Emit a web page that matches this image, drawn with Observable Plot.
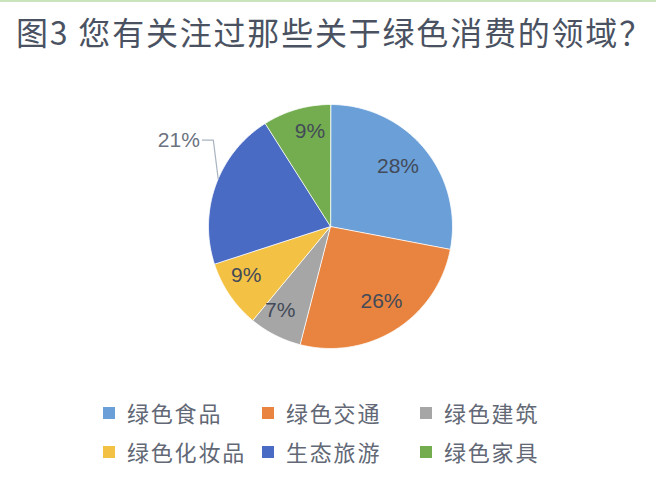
<!DOCTYPE html>
<html>
<head>
<meta charset="utf-8">
<script src="https://cdn.jsdelivr.net/npm/d3@7"></script>
<script src="https://cdn.jsdelivr.net/npm/@observablehq/plot@0.6"></script>
<style>
  html, body { margin: 0; padding: 0; background: #fff; }
  #page { position: relative; width: 656px; height: 478px; overflow: hidden; border-top: 2px solid #c9e3bd; box-sizing: border-box; }
  #title { position: absolute; left: 16px; top: 6px; font-family: "Noto Sans CJK SC", sans-serif; font-size: 32px; color: #4a5262; white-space: nowrap; letter-spacing: 1.8px; }
  #chart { position: absolute; left: 0; top: 58px; }
  .leg { position: absolute; font-family: "Noto Sans CJK SC", sans-serif; font-size: 22px; color: #626875; white-space: nowrap; letter-spacing: 1.8px; line-height: 1; }
  .leg span.sw { display: inline-block; width: 12px; height: 12px; margin-right: 12px; vertical-align: 3px; }
</style>
</head>
<body>
<div id="page">
  <div id="title">图3 您有关注过那些关于绿色消费的领域？</div>
  <div id="chart"></div>
  <div id="legend"></div>
</div>
<script>
const categories = ["绿色食品", "绿色交通", "绿色建筑", "绿色化妆品", "生态旅游", "绿色家具"];
const values = [28, 26, 7, 9, 21, 9];
const colors = ["#6a9fd8", "#e8843f", "#a6a6a6", "#f3c244", "#4a6bc4", "#73ad4f"];

const data = categories.map((name, i) => ({name, value: values[i]}));
const pie = d3.pie().sort(null).value(d => d.value)(data);

// polygon points (unit circle, angle clockwise from top)
const pts = [];
for (const a of pie) {
  const n = Math.max(2, Math.ceil((a.endAngle - a.startAngle) / (Math.PI / 180)));
  pts.push({name: a.data.name, x: 0, y: 0});
  for (let k = 0; k <= n; k++) {
    const t = a.startAngle + (a.endAngle - a.startAngle) * k / n;
    pts.push({name: a.data.name, x: Math.sin(t), y: Math.cos(t)});
  }
}

const deg = Math.PI / 180;
const inside = [], outside = [];
const total = d3.sum(values);
for (const a of pie) {
  const mid = (a.startAngle + a.endAngle) / 2;
  const label = Math.round(a.data.value / total * 100) + "%";
  if (a.data.name === "生态旅游") {
    const ta = mid + 8.8 * deg;
    outside.push({label, y: 1.48 * Math.cos(ta), mid});
  } else {
    const r = a.data.value > 20 ? 0.74 : 0.8;
    const shift = a.data.value > 20 ? -2 * deg : 4 * deg;
    inside.push({label, x: r * Math.sin(mid + shift), y: r * Math.cos(mid + shift)});
  }
}
const leader = [];
for (const o of outside) {
  const sa = o.mid + 3.2 * deg;
  const sx = Math.sin(sa), sy = Math.cos(sa);
  const ex = sx - 0.04;
  leader.push({x: sx, y: sy}, {x: ex, y: o.y}, {x: ex - 0.09, y: o.y});
  o.x = ex - 0.11;
}

const R = 122, cx = 330, cy = 166, W = 656, H = 330;
const chart = Plot.plot({
  width: W, height: H,
  marginLeft: cx - R, marginRight: W - cx - R,
  marginTop: cy - R, marginBottom: H - cy - R,
  x: {domain: [-1, 1], axis: null},
  y: {domain: [-1, 1], axis: null},
  color: {domain: categories, range: colors},
  style: {background: "transparent", overflow: "visible"},
  marks: [
    Plot.line(pts, {x: "x", y: "y", z: "name", fill: "name", stroke: "#ffffff", strokeWidth: 0.8, curve: "linear-closed"}),
    Plot.line(leader, {x: "x", y: "y", stroke: "#a9b4c2", strokeWidth: 1.2}),
    Plot.text(inside, {x: "x", y: "y", text: "label", fontSize: 21, fill: "#434a58", fontFamily: "Liberation Sans, Arial, sans-serif"}),
    Plot.text(outside, {x: "x", y: "y", text: "label", fontSize: 21, fill: "#6b7280", textAnchor: "end", fontFamily: "Liberation Sans, Arial, sans-serif"})
  ]
});
document.getElementById("chart").appendChild(chart);

const legX = [103, 262, 420];
const legY = [399, 438];
const legend = document.getElementById("legend");
categories.forEach((c, i) => {
  const d = document.createElement("div");
  d.className = "leg";
  d.style.left = legX[i % 3] + "px";
  d.style.top = legY[Math.floor(i / 3)] + "px";
  d.innerHTML = `<span class="sw" style="background:${colors[i]}"></span>${c}`;
  legend.appendChild(d);
});
</script>
</body>
</html>
